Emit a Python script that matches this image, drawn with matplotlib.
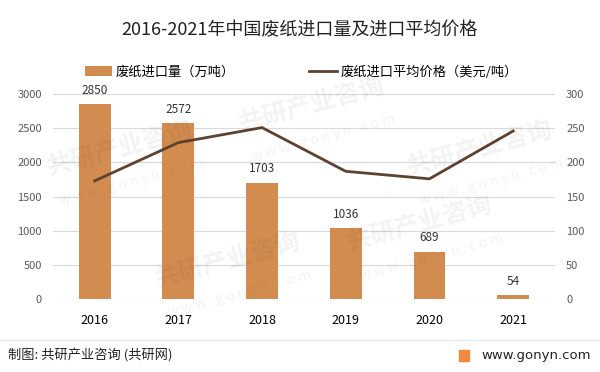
import matplotlib.pyplot as plt
import numpy as np
from matplotlib.patches import Rectangle
from matplotlib.lines import Line2D

plt.rcParams['font.family'] = ['Noto Sans CJK SC', 'DejaVu Sans']

years = ['2016', '2017', '2018', '2019', '2020', '2021']
volume = [2850, 2572, 1703, 1036, 689, 54]
price = [173, 229, 251, 187, 176, 246]

bar_color = '#D38C4F'
line_color = '#5E4230'

fig = plt.figure(figsize=(6, 3.72), dpi=100)
ax = fig.add_axes([0.088, 0.196, 0.837, 0.551])
ax2 = ax.twinx()

x = np.arange(len(years))
bars = ax.bar(x, volume, width=0.38, color=bar_color, zorder=2)
for xi, v in zip(x, volume):
    ax.text(xi, v + 110, str(v), ha='center', va='bottom', fontsize=8.5, color='#333333')

ln, = ax2.plot(x, price, color=line_color, lw=2.0, zorder=3)

ax.set_ylim(0, 3000)
ax.set_yticks(range(0, 3001, 500))
ax2.set_ylim(0, 300)
ax2.set_yticks(range(0, 301, 50))
ax.set_xlim(-0.5, 5.5)
ax.set_xticks(x)
ax.set_xticklabels(years)
ax.yaxis.grid(True, color='#D9D9D9', lw=0.8, zorder=0)
ax.set_axisbelow(True)
for a in (ax, ax2):
    for s in a.spines.values():
        s.set_visible(False)
    a.tick_params(length=0, labelsize=8, colors='#595959')
ax.tick_params(axis='x', labelcolor='black', pad=11, labelsize=9)
ax.tick_params(axis='y', pad=8)
ax2.tick_params(axis='y', pad=8)

leg1 = fig.legend([bars], ['废纸进口量（万吨）'], loc='center left', bbox_to_anchor=(0.142, 0.806),
                  frameon=False, fontsize=9.5, handlelength=2.0, handleheight=0.8,
                  handletextpad=0.3, borderpad=0, borderaxespad=0)
leg2 = fig.legend([ln], ['废纸进口平均价格（美元/吨）'], loc='center left', bbox_to_anchor=(0.515, 0.806),
                  frameon=False, fontsize=9.5, handlelength=2.1, handletextpad=0.3,
                  borderpad=0, borderaxespad=0)

fig.text(0.5, 0.918, '2016-2021年中国废纸进口量及进口平均价格', ha='center', va='center',
         fontsize=13, color='#222222')

# faint watermarks
marks = [(0.20, 0.60), (0.52, 0.72), (0.80, 0.60), (0.38, 0.30), (0.70, 0.40)]
for mx, my in marks:
    fig.text(mx, my, '共研产业咨询', fontsize=18, fontweight='bold', color='#000000', alpha=0.05,
             rotation=15, ha='center', va='center')
    fig.text(mx + 0.02, my - 0.09, 'w w w . g o n y n . c o m', fontsize=10, color='#000000',
             alpha=0.05, rotation=15, ha='center', va='center')

# footer
fig.add_artist(Line2D([0, 1], [0.086, 0.086], color='#E6E6E6', lw=0.8))
fig.text(0.013, 0.045, '制图: 共研产业咨询 (共研网)', ha='left', va='center', fontsize=9.5, color='#222222')
fig.add_artist(Rectangle((0.765, 0.030), 0.016, 0.03, color='#F08A3C', transform=fig.transFigure))
fig.text(0.985, 0.045, 'www.gonyn.com', ha='right', va='center', fontsize=9.5, color='#222222',
         family='DejaVu Sans')

fig.savefig('out.png', dpi=100)
